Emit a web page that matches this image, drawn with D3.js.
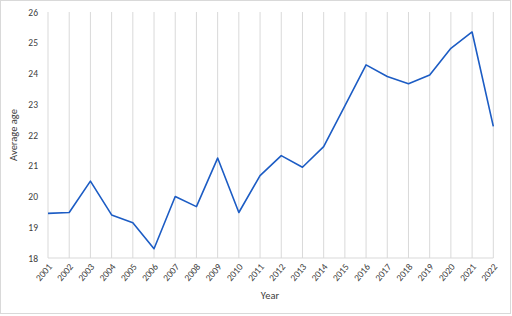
<!DOCTYPE html>
<html>
<head>
<meta charset="utf-8">
<script src="https://cdn.jsdelivr.net/npm/d3@7"></script>
<style>
  body { margin: 0; background: #fff; }
  svg text { font-family: Carlito, Calibri, "Open Sans", sans-serif; fill: #404040; }
</style>
</head>
<body>
<div id="chart"></div>
<script>
var years = ["2001","2002","2003","2004","2005","2006","2007","2008","2009","2010","2011",
             "2012","2013","2014","2015","2016","2017","2018","2019","2020","2021","2022"];
var avgAge = [19.45, 19.48, 20.5, 19.4, 19.15, 18.3, 20.0, 19.67, 21.25, 19.48, 20.68,
              21.33, 20.95, 21.62, 22.95, 24.28, 23.9, 23.67, 23.95, 24.82, 25.35, 22.28];
var yTicks = [18, 19, 20, 21, 22, 23, 24, 25, 26];

var width = 512, height = 316;
var plotLeft = 48, plotRight = 493.3, plotTop = 12, plotBottom = 258;

var svg = d3.select("#chart").append("svg")
  .attr("width", width)
  .attr("height", height);

// outer chart border
svg.append("rect")
  .attr("x", 0.5).attr("y", 0.5)
  .attr("width", width - 2).attr("height", height - 3)
  .attr("fill", "#fff")
  .attr("stroke", "#d9d9d9");

var x = d3.scalePoint().domain(years).range([plotLeft, plotRight]);
var y = d3.scaleLinear().domain([18, 26]).range([plotBottom, plotTop]);

// vertical gridlines at each year
svg.append("g").selectAll("line")
  .data(years)
  .join("line")
  .attr("x1", d => x(d)).attr("x2", d => x(d))
  .attr("y1", plotTop).attr("y2", plotBottom)
  .attr("stroke", "#d9d9d9")
  .attr("stroke-width", 1);

// bottom axis line
svg.append("line")
  .attr("x1", plotLeft).attr("x2", plotRight)
  .attr("y1", plotBottom).attr("y2", plotBottom)
  .attr("stroke", "#d9d9d9");

// y axis labels
var yAxis = svg.append("g")
  .attr("transform", "translate(" + (plotLeft - 10) + ",0)")
  .call(d3.axisLeft(y).tickValues(yTicks).tickSize(0).tickPadding(0));
yAxis.select(".domain").remove();
yAxis.selectAll("text").style("font-size", "9.5px").attr("fill", "#404040");

// x axis labels rotated
var xAxis = svg.append("g")
  .attr("transform", "translate(0," + plotBottom + ")")
  .call(d3.axisBottom(x).tickSize(0).tickPadding(0));
xAxis.select(".domain").remove();
xAxis.selectAll("text")
  .style("font-size", "9.5px")
  .attr("fill", "#404040")
  .attr("text-anchor", "end")
  .attr("dy", 0)
  .attr("y", 0)
  .attr("transform", "translate(4,9) rotate(-50)");

// line
svg.append("path")
  .datum(avgAge)
  .attr("fill", "none")
  .attr("stroke", "#1c5cc4")
  .attr("stroke-width", 1.6)
  .attr("stroke-linejoin", "round")
  .attr("d", d3.line().x((d, i) => x(years[i])).y(d => y(d)));

// axis titles
svg.append("text")
  .attr("transform", "translate(17," + ((plotTop + plotBottom) / 2) + ") rotate(-90)")
  .attr("text-anchor", "middle")
  .style("font-size", "10.5px")
  .text("Average age");

svg.append("text")
  .attr("x", 270).attr("y", 299)
  .attr("text-anchor", "middle")
  .style("font-size", "10.5px")
  .text("Year");
</script>
</body>
</html>
